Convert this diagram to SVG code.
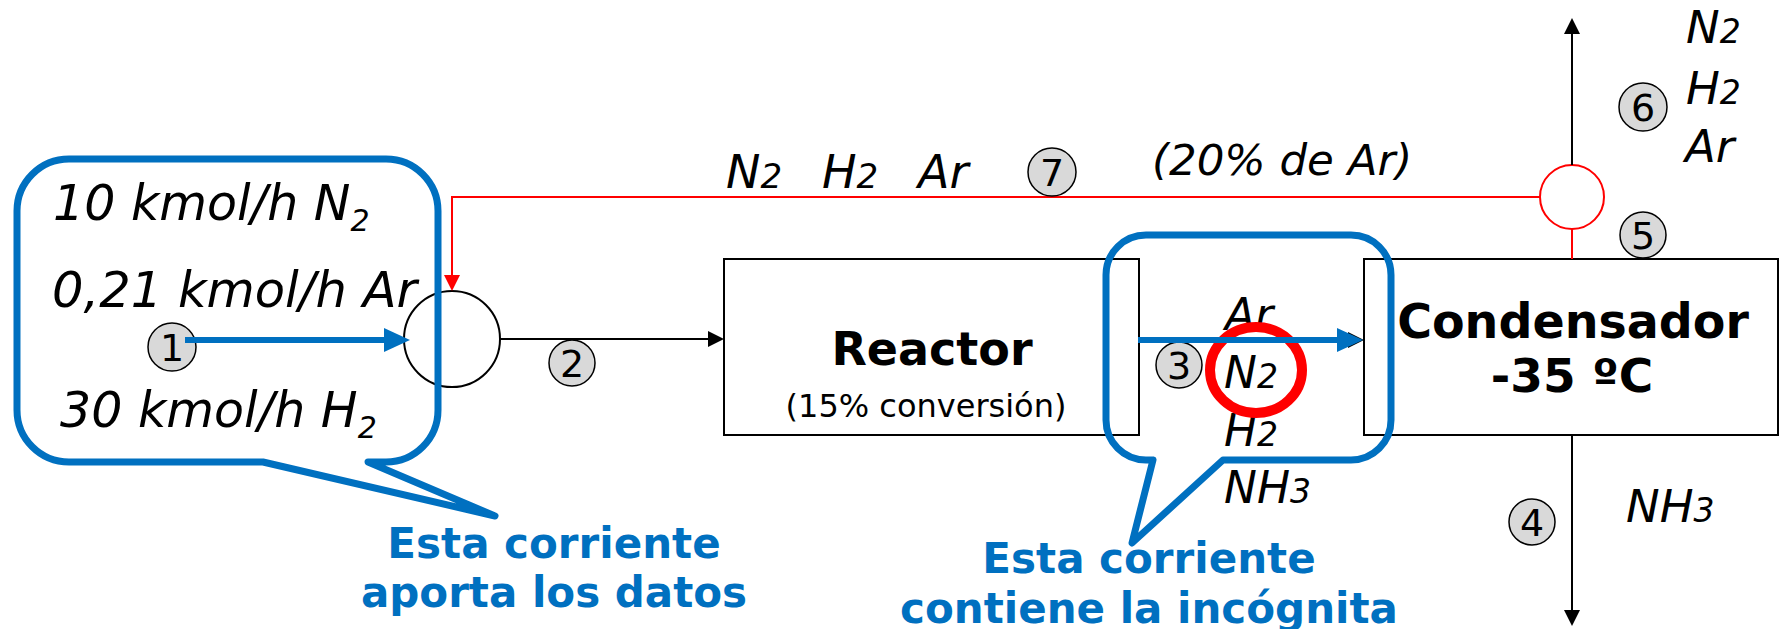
<svg xmlns="http://www.w3.org/2000/svg" width="1779" height="629" viewBox="0 0 1779 629">
<style>
text{font-family:"DejaVu Sans","Verdana",sans-serif;}
.it{font-style:italic;fill:#000;}
.lbl{font-size:45px;}
.sub{font-size:33px;}
.num{font-size:38px;text-anchor:middle;fill:#000;}
.bold{font-weight:bold;text-anchor:middle;fill:#000;}
.blue{font-weight:bold;font-size:42px;fill:#0070C0;text-anchor:middle;}
.blk{stroke:#000;stroke-width:2;fill:none;}
.red{stroke:#FF0000;stroke-width:2;fill:none;}
.barrow{stroke:#0070C0;stroke-width:6;fill:none;}
.bubble{stroke:#0070C0;stroke-width:7;fill:none;stroke-linejoin:round;}
.tag{fill:#D9D9D9;stroke:#000;stroke-width:1.5;}
.box{fill:#fff;stroke:#000;stroke-width:2;}
</style>
<defs>
<marker id="ah" markerUnits="userSpaceOnUse" markerWidth="16" markerHeight="16" viewBox="0 0 16 16" refX="0" refY="8" orient="auto"><path d="M0,0 L16,8 L0,16 Z" fill="#000"/></marker>
<marker id="ahr" markerUnits="userSpaceOnUse" markerWidth="16" markerHeight="16" viewBox="0 0 16 16" refX="0" refY="8" orient="auto"><path d="M0,0 L16,8 L0,16 Z" fill="#FF0000"/></marker>
<marker id="ahb" markerUnits="userSpaceOnUse" markerWidth="26" markerHeight="24" viewBox="0 0 26 24" refX="0" refY="12" orient="auto"><path d="M0,0 L26,12 L0,24 Z" fill="#0070C0"/></marker>
</defs>

<g id="reactor">
<rect class="box" x="724" y="259" width="415" height="176"/>
<text class="bold" x="932" y="365" font-size="46">Reactor</text>
<text x="926" y="417" font-size="32" text-anchor="middle">(15% conversión)</text>
</g>

<g id="condensador">
<rect class="box" x="1364" y="259" width="414" height="176"/>
<text class="bold" x="1573" y="338" font-size="47.5">Condensador</text>
<text class="bold" x="1572" y="392" font-size="47">-35 ºC</text>
</g>

<g id="mezclador">
<circle cx="452" cy="339" r="48" fill="#fff" stroke="#000" stroke-width="2"/>
</g>

<g id="divisor">
<circle cx="1572" cy="197" r="32" fill="#fff" stroke="#FF0000" stroke-width="2"/>
</g>

<g id="connectors">
<line class="blk" x1="500" y1="339" x2="708" y2="339" marker-end="url(#ah)"/>
<line class="blk" x1="1139" y1="340" x2="1348" y2="340" marker-end="url(#ah)"/>
<line class="blk" x1="1572" y1="165" x2="1572" y2="34" marker-end="url(#ah)"/>
<line class="blk" x1="1572" y1="435" x2="1572" y2="610" marker-end="url(#ah)"/>
<line class="red" x1="1572" y1="229" x2="1572" y2="259"/>
<polyline class="red" points="1540,197 452,197 452,275" marker-end="url(#ahr)"/>
</g>

<g id="n1"><circle class="tag" cx="172" cy="347" r="24"/><text class="num" x="172" y="361">1</text></g>
<g id="n2"><circle class="tag" cx="572" cy="363" r="23"/><text class="num" x="572" y="377">2</text></g>
<g id="n3"><circle class="tag" cx="1179" cy="365" r="23"/><text class="num" x="1179" y="379">3</text></g>
<g id="n4"><circle class="tag" cx="1532" cy="522" r="23"/><text class="num" x="1532" y="536">4</text></g>
<g id="n5"><circle class="tag" cx="1643" cy="235" r="23"/><text class="num" x="1643" y="249">5</text></g>
<g id="n6"><circle class="tag" cx="1643" cy="107" r="24"/><text class="num" x="1643" y="121">6</text></g>
<g id="n7"><circle class="tag" cx="1052" cy="172" r="24"/><text class="num" x="1052" y="186">7</text></g>

<g id="labels">
<text class="it" x="726" y="188" font-size="46">N<tspan font-size="34">2</tspan></text>
<text class="it" x="822" y="188" font-size="46">H<tspan font-size="34">2</tspan></text>
<text class="it" x="918" y="188" font-size="46">Ar</text>
<text class="it" x="1152" y="175" font-size="43.5">(20% de Ar)</text>

<text class="it lbl" x="1686" y="43">N<tspan class="sub">2</tspan></text>
<text class="it lbl" x="1686" y="104">H<tspan class="sub">2</tspan></text>
<text class="it lbl" x="1685" y="162">Ar</text>

<text class="it lbl" x="1626" y="522">NH<tspan class="sub">3</tspan></text>

<text class="it" x="1225" y="330" font-size="44">Ar</text>
<text class="it" x="1224" y="388" font-size="44">N<tspan font-size="33">2</tspan></text>
<text class="it" x="1224" y="446" font-size="44">H<tspan font-size="33">2</tspan></text>
<text class="it" x="1224" y="503" font-size="44">NH<tspan font-size="33">3</tspan></text>

<text class="it" x="53" y="220" font-size="49">10 kmol/h N<tspan font-size="30" dy="11">2</tspan></text>
<text class="it" x="52" y="307" font-size="49.5">0,21 kmol/h Ar</text>
<text class="it" x="60" y="427" font-size="49">30 kmol/h H<tspan font-size="30" dy="11">2</tspan></text>
</g>

<g id="destacado-n2">
<ellipse cx="1256" cy="370" rx="46" ry="43" fill="none" stroke="#FF0000" stroke-width="10"/>
</g>

<g id="flechas-azules">
<line class="barrow" x1="185" y1="340" x2="384" y2="340" marker-end="url(#ahb)"/>
<line class="barrow" x1="1138" y1="340" x2="1337" y2="340" marker-end="url(#ahb)"/>
</g>

<g id="bocadillo-datos">
<path class="bubble" d="M69,159 H386 A52,52 0 0 1 438,211 V410 A52,52 0 0 1 386,462 H368 L495,516 L263,462 H69 A52,52 0 0 1 17,410 V211 A52,52 0 0 1 69,159 Z"/>
<text class="blue" x="554" y="558">Esta corriente</text>
<text class="blue" x="554" y="607">aporta los datos</text>
</g>

<g id="bocadillo-incognita">
<path class="bubble" d="M1146,235 H1351 A40,40 0 0 1 1391,275 V420 A40,40 0 0 1 1351,460 H1223 L1132,543 L1153,460 H1146 A40,40 0 0 1 1106,420 V275 A40,40 0 0 1 1146,235 Z"/>
<text class="blue" x="1149" y="573">Esta corriente</text>
<text class="blue" x="1149" y="623">contiene la incógnita</text>
</g>
</svg>
